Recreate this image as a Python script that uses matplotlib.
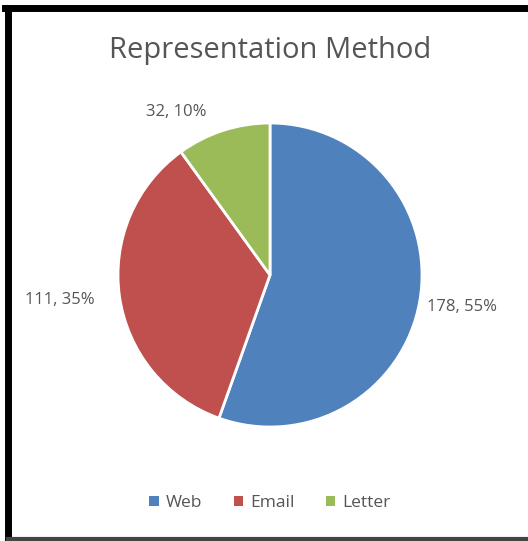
import matplotlib.pyplot as plt
from matplotlib.lines import Line2D
from matplotlib.patches import Patch

# dados
categorias = ["Web", "Email", "Letter"]
valores = [178, 111, 32]
cores = ["#4F81BD", "#C0504D", "#9BBB59"]

plt.rcParams['font.family'] = ['Open Sans', 'DejaVu Sans']
cinza = "#555555"

W, H = 528, 541
fig = plt.figure(figsize=(W / 100, H / 100), dpi=100)

# eixo da pizza posicionado em pixels (centro 270,275 raio 152)
cx, cy, r = 270, 275, 152
ax = fig.add_axes([(cx - r) / W, (H - cy - r) / H, 2 * r / W, 2 * r / H])
total = sum(valores)
rotulos = [f"{v}, {round(100 * v / total)}%" for v in valores]

wedges, textos = ax.pie(valores, colors=cores, startangle=90, counterclock=False,
                        labels=rotulos, labeldistance=1.28,
                        wedgeprops=dict(edgecolor="white", linewidth=2),
                        textprops=dict(color=cinza, fontsize=12))
ax.set_xlim(-1, 1)
ax.set_ylim(-1, 1)
ax.set_aspect("equal")

# ajuste fino da posição dos rótulos (em coordenadas do eixo da pizza)
pos_rotulos = [(1.263, -0.21), (-1.38, -0.165), (-0.62, 1.07)]
for t, p in zip(textos, pos_rotulos):
    t.set_position(p)
    t.set_ha("center")
    t.set_va("center")

fig.text(cx / W, 1 - 50 / H, "Representation Method", ha="center", va="center",
         fontsize=21, color=cinza)

handles = [Patch(facecolor=c, edgecolor="none") for c in cores]
fig.legend(handles, categorias, loc="center", bbox_to_anchor=(cx / W, 1 - 503 / H),
           ncol=3, frameon=False, handlelength=0.55, handleheight=0.55,
           handletextpad=0.4, columnspacing=1.8,
           prop=dict(size=12.5), labelcolor=cinza)

# borda do quadro
fig.add_artist(Line2D([8 / W, 8 / W], [1 - 8 / H, 0], color="black", lw=5, transform=fig.transFigure))
fig.add_artist(Line2D([5 / W, 1], [1 - 8 / H, 1 - 8 / H], color="black", lw=5, transform=fig.transFigure))
fig.add_artist(Line2D([8 / W, 1], [2.5 / H, 2.5 / H], color="#444444", lw=3, transform=fig.transFigure))

fig.savefig("out.png", dpi=100)
